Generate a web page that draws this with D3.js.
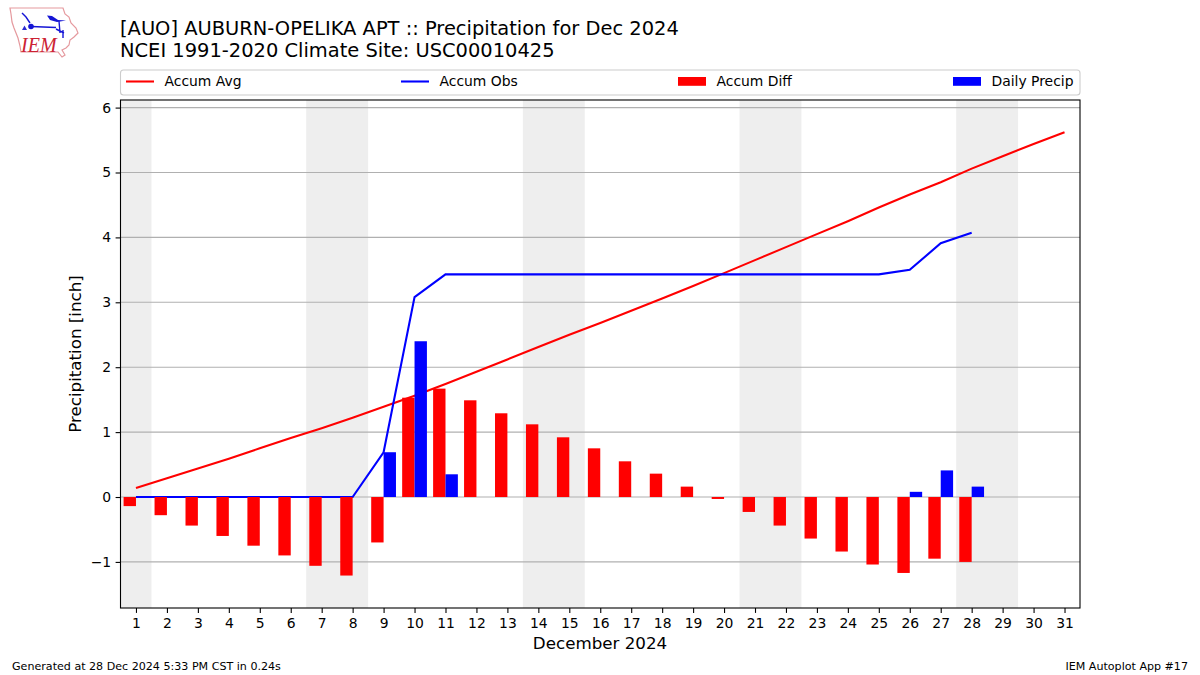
<!DOCTYPE html>
<html>
<head>
<meta charset="utf-8">
<script src="https://cdn.jsdelivr.net/npm/d3@7/dist/d3.min.js"></script>
<style>
html,body{margin:0;padding:0;background:#fff;}
svg{display:block;}
text{font-family:"DejaVu Sans",sans-serif;fill:#000;}
</style>
</head>
<body>
<svg id="chart" width="1200" height="675"></svg>
<script>
const days = d3.range(1, 32);
const accumAvg = [0.14,0.29,0.44,0.59,0.75,0.91,1.06,1.22,1.39,1.56,1.74,1.93,2.12,2.31,2.50,2.68,2.87,3.06,3.25,3.45,3.65,3.85,4.05,4.25,4.46,4.66,4.85,5.06,5.25,5.44,5.62];
const accumObs = [0,0,0,0,0,0,0,0,0.69,3.08,3.43,3.43,3.43,3.43,3.43,3.43,3.43,3.43,3.43,3.43,3.43,3.43,3.43,3.43,3.43,3.50,3.91,4.07];
const accumDiff = [-0.14,-0.28,-0.44,-0.60,-0.75,-0.90,-1.06,-1.21,-0.70,1.53,1.67,1.49,1.29,1.12,0.92,0.75,0.55,0.36,0.16,-0.03,-0.23,-0.44,-0.64,-0.84,-1.04,-1.17,-0.95,-1.00];
const dailyPrecip = [0,0,0,0,0,0,0,0,0.69,2.40,0.35,0,0,0,0,0,0,0,0,0,0,0,0,0,0,0.08,0.41,0.16];
const weekendSpans = [[0.5,1.5],[6.5,8.5],[13.5,15.5],[20.5,22.5],[27.5,29.5]];
const yTicks = [-1,0,1,2,3,4,5,6];
const titleLines = ["[AUO] AUBURN-OPELIKA APT :: Precipitation for Dec 2024","NCEI 1991-2020 Climate Site: USC00010425"];
const legendItems = [
  {label:"Accum Avg", kind:"line", color:"#ff0000", x:126},
  {label:"Accum Obs", kind:"line", color:"#0000ff", x:401},
  {label:"Accum Diff", kind:"bar", color:"#ff0000", x:678},
  {label:"Daily Precip", kind:"bar", color:"#0000ff", x:953}
];

const svg = d3.select("#chart");
const L=120.5,R=1080,T=100,B=608;
const x = d3.scaleLinear().domain([0.5,31.5]).range([L,R]);
const y = d3.scaleLinear().domain([-1.71,6.117]).range([B,T]);
const barW = 0.4;

// weekend shading
svg.append("g").selectAll("rect").data(weekendSpans).join("rect")
  .attr("x",d=>x(d[0])).attr("width",d=>x(d[1])-x(d[0]))
  .attr("y",T).attr("height",B-T).attr("fill","#eeeeee");

// grid
svg.append("g").selectAll("line").data(yTicks).join("line")
  .attr("x1",L).attr("x2",R).attr("y1",d=>y(d)).attr("y2",d=>y(d))
  .attr("stroke","#b0b0b0").attr("stroke-width",1.1);

// lines
const line = d3.line().x((d,i)=>x(days[i])).y(d=>y(d));
svg.append("path").attr("d",line(accumAvg)).attr("fill","none").attr("stroke","#ff0000").attr("stroke-width",2.08);
svg.append("path").attr("d",line(accumObs)).attr("fill","none").attr("stroke","#0000ff").attr("stroke-width",2.08);

// bars
svg.append("g").selectAll("rect").data(accumDiff).join("rect")
  .attr("x",(d,i)=>x(days[i]-barW)).attr("width",(d,i)=>x(days[i])-x(days[i]-barW))
  .attr("y",d=>y(Math.max(d,0))).attr("height",d=>Math.abs(y(d)-y(0)))
  .attr("fill","#ff0000");
svg.append("g").selectAll("rect").data(dailyPrecip).join("rect")
  .attr("x",(d,i)=>x(days[i])).attr("width",(d,i)=>x(days[i]+barW)-x(days[i]))
  .attr("y",d=>y(d)).attr("height",d=>y(0)-y(d))
  .attr("fill","#0000ff");

// frame
svg.append("rect").attr("x",L).attr("y",T).attr("width",R-L).attr("height",B-T)
  .attr("fill","none").attr("stroke","#000").attr("stroke-width",1.1);

// axes
const xAxis = svg.append("g").attr("transform",`translate(0,${B})`)
  .call(d3.axisBottom(x).tickValues(days).tickFormat(d3.format("d")).tickSize(4.9).tickPadding(5));
const yAxis = svg.append("g").attr("transform",`translate(${L},0)`)
  .call(d3.axisLeft(y).tickValues(yTicks).tickFormat(d3.format("d")).tickSize(4.9).tickPadding(4.5));
[xAxis,yAxis].forEach(a=>{
  a.select(".domain").remove();
  a.selectAll(".tick line").attr("stroke","#000").attr("stroke-width",1.1);
  a.selectAll("text").style("font-family",'"DejaVu Sans",sans-serif').style("font-size","13.9px");
});

// axis labels
svg.append("text").attr("x",600).attr("y",649).attr("text-anchor","middle").style("font-size","16.7px").text("December 2024");
svg.append("text").attr("transform","translate(81,354) rotate(-90)").attr("text-anchor","middle").style("font-size","16.7px").text("Precipitation [inch]");

// title
svg.append("g").selectAll("text").data(titleLines).join("text")
  .attr("x",120).attr("y",(d,i)=>35+i*22).style("font-size","19.45px").text(d=>d);

// legend
svg.append("rect").attr("x",120.5).attr("y",70).attr("width",959.5).attr("height",25).attr("rx",3)
  .attr("fill","#fff").attr("stroke","#cccccc").attr("stroke-width",1.1);
const lg = svg.append("g").selectAll("g").data(legendItems).join("g");
lg.filter(d=>d.kind==="line").append("line")
  .attr("x1",d=>d.x).attr("x2",d=>d.x+28).attr("y1",81.5).attr("y2",81.5)
  .attr("stroke",d=>d.color).attr("stroke-width",2.08);
lg.filter(d=>d.kind==="bar").append("rect")
  .attr("x",d=>d.x).attr("width",28).attr("y",77).attr("height",8.8).attr("fill",d=>d.color);
lg.append("text").attr("x",d=>d.x+38.5).attr("y",86).style("font-size","13.9px").text(d=>d.label);

// footer
svg.append("text").attr("x",12).attr("y",670).style("font-size","11.1px").text("Generated at 28 Dec 2024 5:33 PM CST in 0.24s");
svg.append("text").attr("x",1188).attr("y",670).attr("text-anchor","end").style("font-size","11.1px").text("IEM Autoplot App #17");

// logo
const logo = svg.append("g");
logo.append("path").attr("d","M10 8 L63 8 L65 14 L69 17 L71 23 L76 28 L78 33 L74 37 L70 40 L69 45 L66 48 L62 50 L65 55 L62 57 L58 52 L21 52 L20 46 L18 38 L14 28 L12 22 L11 14 Z")
  .attr("fill","none").attr("stroke","#e5999e").attr("stroke-width",1.2);
logo.append("text").attr("x",21).attr("y",52).style("font-family",'"Liberation Serif",serif').style("font-style","italic").style("font-size","20px").style("fill","#cc2233").text("IEM");
logo.append("path").attr("d","M31 26.5 L56 27.5 M22 13 L26 17 L30 23 M59 21 L60 33 M56 29 L64 33 M63 30 L63 38")
  .attr("fill","none").attr("stroke","#1515d5").attr("stroke-width",1.4);
logo.append("path").attr("d","M47 15.5 L52 16 L58 20 L66 20.5 L57 22 L50 20 Z").attr("fill","#1515d5");
logo.append("circle").attr("cx",31).attr("cy",26.5).attr("r",2.8).attr("fill","#1515d5");
logo.append("path").attr("d","M22 30 L24.5 25.5 L27 30 Z").attr("fill","#2a2ad0");
</script>
</body>
</html>
